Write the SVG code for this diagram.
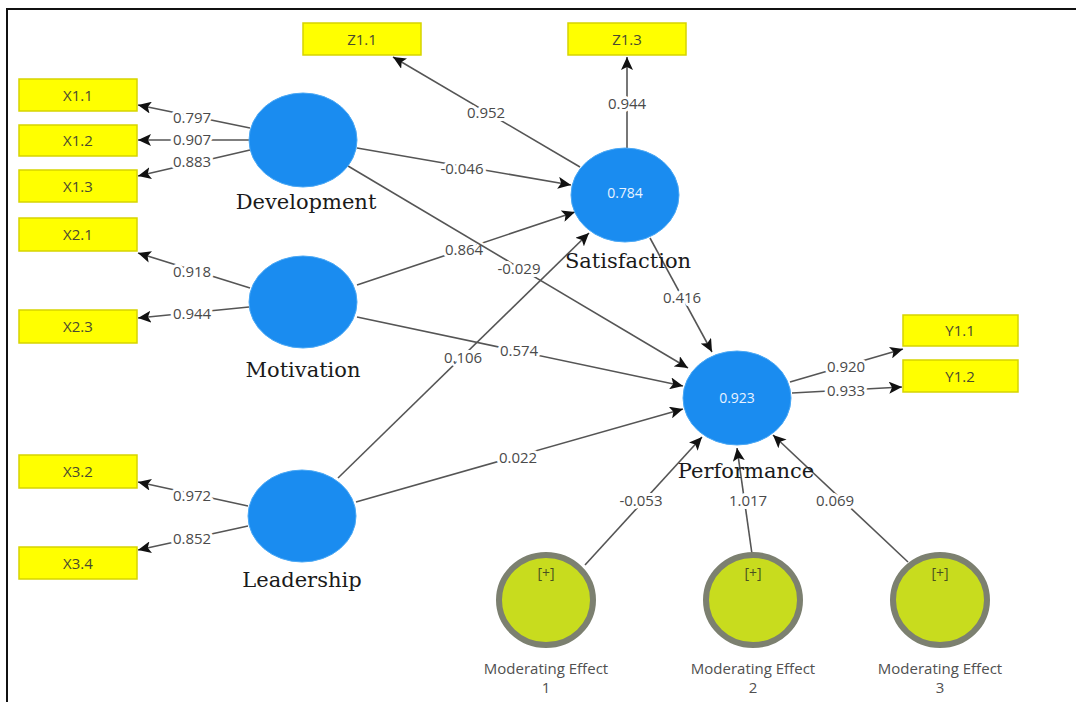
<svg xmlns="http://www.w3.org/2000/svg" width="1078" height="702" viewBox="0 0 1078 702">
<style>
.ind rect{fill:#ffff00;stroke:#d6d400;stroke-width:1.5}
.ind text{font-family:"Open Sans","Noto Sans",sans-serif;font-size:15px;fill:#4a4a30;text-anchor:middle;dominant-baseline:central}
.lv ellipse{fill:#1a8cf0;stroke:#4aa8f5;stroke-width:1}
.lv text.n{font-family:"DejaVu Serif","Liberation Serif",serif;font-size:21px;fill:#1a1a1a;text-anchor:middle}
.lv text.r{font-family:"Open Sans","Noto Sans",sans-serif;font-size:14px;fill:#e8f3ff;text-anchor:middle;dominant-baseline:central}
.me ellipse{fill:#c8dc1e;stroke:#7c8070;stroke-width:6}
.me text{font-family:"Open Sans","Noto Sans",sans-serif;fill:#505050;text-anchor:middle}
.me text.p{font-size:14px;fill:#4a5020}
.me text.t{font-size:15px}
#connectors line{stroke:#555;stroke-width:1.6;marker-end:url(#ah)}
#connectors text{font-family:"Open Sans","Noto Sans",sans-serif;font-size:15px;fill:#4a4a4a;text-anchor:middle;dominant-baseline:central;paint-order:stroke;stroke:#fff;stroke-width:6px;stroke-linejoin:round}
</style>
<defs>
<marker id="ah" markerUnits="userSpaceOnUse" markerWidth="14" markerHeight="12" refX="13" refY="6" orient="auto">
<path d="M0,0 L13,6 L0,12 L3,6 z" fill="#111"/>
</marker>
</defs>
<rect width="1078" height="702" fill="#fff"/>
<path d="M7,702 V9 H1076" fill="none" stroke="#111" stroke-width="2"/>

<g id="connectors">
<line x1="250" y1="128" x2="138" y2="105"/><text x="192" y="117">0.797</text>
<line x1="249" y1="140" x2="138" y2="140"/><text x="192" y="139">0.907</text>
<line x1="250" y1="150" x2="138" y2="176"/><text x="192" y="161">0.883</text>
<line x1="250" y1="288" x2="138" y2="253"/><text x="192" y="271">0.918</text>
<line x1="249" y1="307" x2="138" y2="318"/><text x="192" y="313">0.944</text>
<line x1="248" y1="506" x2="138" y2="482"/><text x="192" y="495">0.972</text>
<line x1="248" y1="526" x2="138" y2="550"/><text x="192" y="538">0.852</text>
<line x1="580" y1="167" x2="393" y2="57"/><text x="486" y="112">0.952</text>
<line x1="627" y1="148" x2="627" y2="57"/><text x="627" y="103">0.944</text>
<line x1="790" y1="382" x2="903" y2="349"/><text x="846" y="366">0.920</text>
<line x1="792" y1="393" x2="902" y2="387"/><text x="846" y="390">0.933</text>
<line x1="357" y1="148" x2="571" y2="185"/><text x="462" y="168">-0.046</text>
<line x1="357" y1="285" x2="575" y2="212"/><text x="464" y="249">0.864</text>
<line x1="338" y1="478" x2="589" y2="233"/><text x="463" y="357">0.106</text>
<line x1="348" y1="166" x2="688" y2="368"/><text x="519" y="268">-0.029</text>
<line x1="357" y1="317" x2="683" y2="386"/><text x="519" y="350">0.574</text>
<line x1="356" y1="502" x2="683" y2="409"/><text x="518" y="457">0.022</text>
<line x1="650" y1="238" x2="712" y2="352"/><text x="682" y="297">0.416</text>
<line x1="585" y1="565" x2="702" y2="437"/><text x="641" y="500">-0.053</text>
<line x1="752" y1="554" x2="737" y2="448"/><text x="748" y="500">1.017</text>
<line x1="908" y1="562" x2="773" y2="435"/><text x="835" y="500">0.069</text>
</g>

<g id="X1.1" class="ind"><rect x="19" y="79" width="118" height="32"/><text x="78" y="95">X1.1</text></g>
<g id="X1.2" class="ind"><rect x="19" y="125" width="118" height="31"/><text x="78" y="140">X1.2</text></g>
<g id="X1.3" class="ind"><rect x="19" y="170" width="118" height="32"/><text x="78" y="186">X1.3</text></g>
<g id="X2.1" class="ind"><rect x="19" y="218" width="118" height="33"/><text x="78" y="234">X2.1</text></g>
<g id="X2.3" class="ind"><rect x="19" y="310" width="118" height="33"/><text x="78" y="326">X2.3</text></g>
<g id="X3.2" class="ind"><rect x="19" y="455" width="118" height="33"/><text x="78" y="471">X3.2</text></g>
<g id="X3.4" class="ind"><rect x="19" y="547" width="118" height="32"/><text x="78" y="563">X3.4</text></g>
<g id="Z1.1" class="ind"><rect x="303" y="23" width="118" height="32"/><text x="362" y="39">Z1.1</text></g>
<g id="Z1.3" class="ind"><rect x="568" y="23" width="118" height="32"/><text x="627" y="39">Z1.3</text></g>
<g id="Y1.1" class="ind"><rect x="903" y="315" width="115" height="31"/><text x="960" y="330">Y1.1</text></g>
<g id="Y1.2" class="ind"><rect x="903" y="360" width="115" height="32"/><text x="960" y="376">Y1.2</text></g>

<g id="Development" class="lv"><ellipse cx="303" cy="140" rx="54" ry="47"/><text class="n" x="306" y="209">Development</text></g>
<g id="Motivation" class="lv"><ellipse cx="303" cy="302" rx="54" ry="46"/><text class="n" x="303" y="377">Motivation</text></g>
<g id="Leadership" class="lv"><ellipse cx="302" cy="516" rx="54" ry="46"/><text class="n" x="302" y="587">Leadership</text></g>
<g id="Satisfaction" class="lv"><ellipse cx="625" cy="195" rx="54" ry="47"/><text class="r" x="625" y="192">0.784</text><text class="n" x="628" y="268">Satisfaction</text></g>
<g id="Performance" class="lv"><ellipse cx="737" cy="398" rx="54" ry="47"/><text class="r" x="737" y="397">0.923</text><text class="n" x="746" y="478">Performance</text></g>

<g id="ME1" class="me"><ellipse cx="546" cy="600" rx="47" ry="45"/><text class="p" x="546" y="578">[+]</text><text class="t" x="546" y="674">Moderating Effect</text><text class="t" x="546" y="693">1</text></g>
<g id="ME2" class="me"><ellipse cx="753" cy="600" rx="47" ry="45"/><text class="p" x="753" y="578">[+]</text><text class="t" x="753" y="674">Moderating Effect</text><text class="t" x="753" y="693">2</text></g>
<g id="ME3" class="me"><ellipse cx="940" cy="600" rx="47" ry="45"/><text class="p" x="940" y="578">[+]</text><text class="t" x="940" y="674">Moderating Effect</text><text class="t" x="940" y="693">3</text></g>
</svg>
